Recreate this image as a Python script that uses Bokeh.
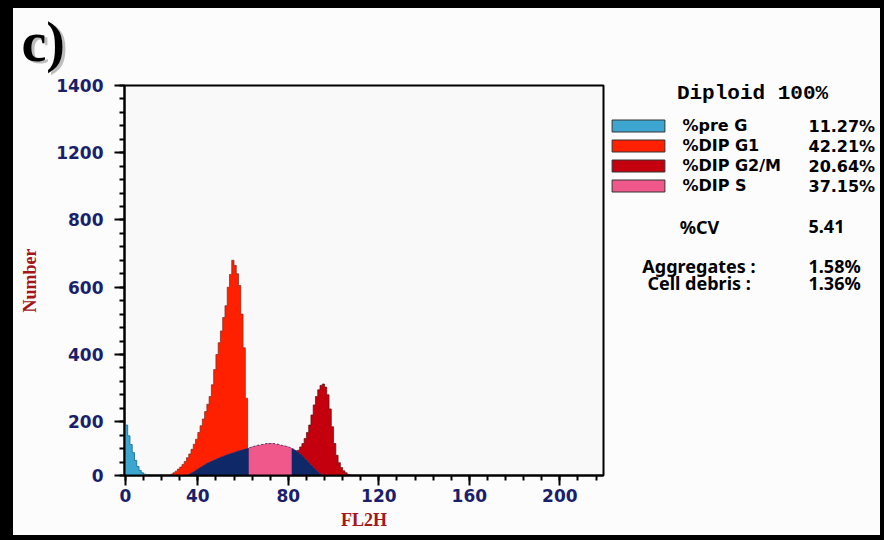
import numpy as np
from bokeh.plotting import figure
from bokeh.layouts import row, column
from bokeh.models import Range1d, FixedTicker, Label, Legend, LegendItem
from bokeh.embed import file_html
from bokeh.resources import INLINE

# ---------------- data ----------------
x_tick_pos = [0, 32, 72, 112, 152, 192]
x_tick_labels = ["0", "40", "80", "120", "160", "200"]
y_tick_pos = [0, 160, 360, 560, 760, 960, 1160]
y_tick_labels = ["0", "200", "400", "600", "800", "1200", "1400"]

# histogram channels (bin width 1), counts per channel
preg_start = 0
preg_counts = [150, 118, 92, 68, 45, 27, 15, 8, 4, 2, 1]

g1_start = 20
g1_counts = [4, 8, 13, 19, 25, 33, 42, 53, 64, 78, 93, 108, 128, 148, 168, 190,
             212, 235, 270, 315, 360, 395, 430, 470, 505, 560, 598, 640, 625,
             600, 565, 480, 380, 230]

g2_start = 74
g2_counts = [55, 65, 75, 85, 95, 110, 128, 150, 180, 210, 235, 255, 268, 272,
             263, 240, 198, 145, 95, 60, 38, 24, 14, 8, 3, 1]

s_start = 27
s_counts = [2, 5, 9, 13, 17, 22, 26, 30, 34, 38, 41, 44, 47, 50, 53, 56, 58, 61,
            63, 66, 68, 70, 72, 74, 76, 78, 80, 82, 84, 86, 88, 90, 91, 92, 94,
            95, 95, 95, 95, 94, 93, 91, 89, 88, 86, 84, 81, 78, 74, 69, 63, 57,
            50, 43, 36, 29, 22, 15, 9, 4]
s_visible = (54, 73)   # channels where the S phase is the visible (pink) part

legend_names = ["%pre G", "%DIP G1", "%DIP G2/M", "%DIP S"]
legend_values = ["11.27%", "42.21%", "20.64%", "37.15%"]
cv_value = "5.41"
aggregates_value = "1.58%"
debris_value = "1.36%"

# ---------------- styles ----------------
C_PREG = "#3ca6d0"
C_G1 = "#ff2000"
C_G2 = "#c4000e"
C_S = "#f0588c"
C_NAVY = "#0f2868"
NAVY_TXT = "#1b1f6b"
RED_TXT = "#a3161a"
BG = "#fcfcfc"


def hist_xy(start, counts):
    edges = start + np.arange(len(counts) + 1)
    return edges, list(counts) + [0]


def blank(fig):
    fig.border_fill_color = BG
    fig.background_fill_color = BG
    fig.outline_line_color = None
    fig.grid.visible = False
    fig.frame_align = False


def add_text(fig, txt, x, y, font, size, align="left", color="black",
             baseline="middle", alpha=1.0, style="bold"):
    fig.add_layout(Label(x=x, y=y, text=txt,
                         text_font=font, text_font_size=size, text_font_style=style,
                         text_align=align, text_baseline=baseline,
                         text_color=color, text_alpha=alpha))


# ---------- top strip with panel letter ----------
p_top = figure(width=597, height=67, x_range=Range1d(0, 597), y_range=Range1d(0, 67),
               x_axis_type=None, y_axis_type=None, title=None,
               output_backend="svg", toolbar_location=None,
               min_border_left=0, min_border_right=0, min_border_top=0, min_border_bottom=0)
blank(p_top)
add_text(p_top, "c)", 11, 31.5, "Liberation Serif", "56px", color="#8a8a8a", alpha=0.55)
add_text(p_top, "c)", 8, 33.5, "Liberation Serif", "56px")

# ---------- main histogram ----------
p = figure(width=597, height=460, title=None,
           x_range=Range1d(-0.4, 211.3), y_range=Range1d(0, 1160),
           output_backend="svg", toolbar_location=None,
           min_border_left=111, min_border_right=7,
           min_border_top=10, min_border_bottom=60)
p.background_fill_color = "#f9f9f9"
p.border_fill_color = BG
p.outline_line_color = "black"
p.outline_line_width = 2
p.xgrid.visible = False
p.ygrid.visible = False

ex, ey = hist_xy(preg_start, preg_counts)
p.varea_step(x=ex, y1=0, y2=ey, step_mode="after", fill_color=C_PREG)
p.step(ex, ey, mode="after", line_color="#2a7a9a", line_width=1)

ex, ey = hist_xy(g1_start, g1_counts)
p.varea_step(x=ex, y1=0, y2=ey, step_mode="after", fill_color=C_G1)
p.step(ex, ey, mode="after", line_color="#7a2a20", line_width=1, line_alpha=0.7)

ex, ey = hist_xy(g2_start, g2_counts)
p.varea_step(x=ex, y1=0, y2=ey, step_mode="after", fill_color=C_G2)
p.step(ex, ey, mode="after", line_color="#5a1010", line_width=1, line_alpha=0.7)

sx = s_start + np.arange(len(s_counts)) + 0.5
p.varea(x=sx, y1=0, y2=s_counts, fill_color=C_NAVY)
mask = (sx >= s_visible[0]) & (sx <= s_visible[1] + 0.5)
p.varea(x=sx[mask], y1=0, y2=np.array(s_counts)[mask], fill_color=C_S)
p.line(sx, s_counts, line_color="#5a3a6a", line_width=1, line_dash="2 2")

p.xaxis.ticker = FixedTicker(ticks=x_tick_pos, minor_ticks=list(range(0, 216, 8)))
p.xaxis.major_label_overrides = dict(zip(x_tick_pos, x_tick_labels))
p.yaxis.ticker = FixedTicker(ticks=y_tick_pos, minor_ticks=list(range(0, 1200, 40)))
p.yaxis.major_label_overrides = dict(zip(y_tick_pos, y_tick_labels))
p.xaxis.axis_label = "FL2H"
p.yaxis.axis_label = "Number"
for ax in (p.xaxis[0], p.yaxis[0]):
    ax.axis_line_color = "black"
    ax.axis_line_width = 2
    ax.major_tick_line_color = "black"
    ax.major_tick_line_width = 2
    ax.major_tick_out = 10
    ax.major_tick_in = 0
    ax.minor_tick_line_color = "black"
    ax.minor_tick_line_width = 2
    ax.minor_tick_out = 5
    ax.minor_tick_in = 0
    ax.major_label_text_font = "DejaVu Sans"
    ax.major_label_text_font_style = "bold"
    ax.major_label_text_font_size = "17px"
    ax.major_label_text_color = NAVY_TXT
    ax.axis_label_text_font = "Liberation Serif"
    ax.axis_label_text_font_style = "bold"
    ax.axis_label_text_font_size = "18px"
    ax.axis_label_text_color = RED_TXT
p.xaxis.major_label_standoff = 3
p.xaxis.axis_label_standoff = 5
p.yaxis.major_label_standoff = 11
p.yaxis.axis_label_standoff = 13

# ---------- right statistics panel ----------
ps = figure(width=270, height=527, x_range=Range1d(0, 270), y_range=Range1d(0, 527),
            x_axis_type=None, y_axis_type=None, title=None,
            output_backend="svg", toolbar_location=None,
            min_border_left=0, min_border_right=0, min_border_top=0, min_border_bottom=0)
blank(ps)
# legend keys: one-row sources kept outside the visible range, only their legend glyph shows
swatch_r = [ps.quad(left=[-30], right=[-20], top=[-20], bottom=[-30], fill_color=c,
                    line_color="#333333", line_width=1)
            for c in (C_PREG, C_G1, C_G2, C_S)]
legend = Legend(items=[LegendItem(label=n, renderers=[r])
                       for n, r in zip(legend_names, swatch_r)],
                location=(-4.6, 340), orientation="vertical",
                glyph_width=66, glyph_height=15, label_standoff=11, spacing=1,
                padding=0, margin=0, label_height=19,
                border_line_alpha=0, background_fill_alpha=0,
                label_text_font="DejaVu Sans", label_text_font_style="bold",
                label_text_font_size="16px", label_text_color="black")
ps.add_layout(legend)

add_text(ps, "Diploid 100%", 142, 442, "Liberation Mono", "21px", align="center")
for i, v in enumerate(legend_values):
    add_text(ps, v, 198, 409.3 - i * 20, "DejaVu Sans", "16px")
add_text(ps, "%CV", 89, 309, "Noto Sans", "18px", align="center")
add_text(ps, cv_value, 198, 309, "Noto Sans", "18px")
add_text(ps, "Aggregates :", 145, 270, "Noto Sans", "18px", align="right")
add_text(ps, aggregates_value, 198, 270, "Noto Sans", "18px")
add_text(ps, "Cell debris  :", 145, 253, "Noto Sans", "18px", align="right")
add_text(ps, debris_value, 198, 253, "Noto Sans", "18px")

left_col = column(p_top, p, spacing=0)
left_col.styles = {"background-color": BG}
layout = row(left_col, ps, spacing=0)
layout.margin = (8, 0, 0, 13)
layout.styles = {"background-color": BG}

html = file_html(layout, INLINE)
html = html.replace("</head>", "<style>html,body{background:#000;}</style></head>", 1)
open("out.html", "w").write(html)
